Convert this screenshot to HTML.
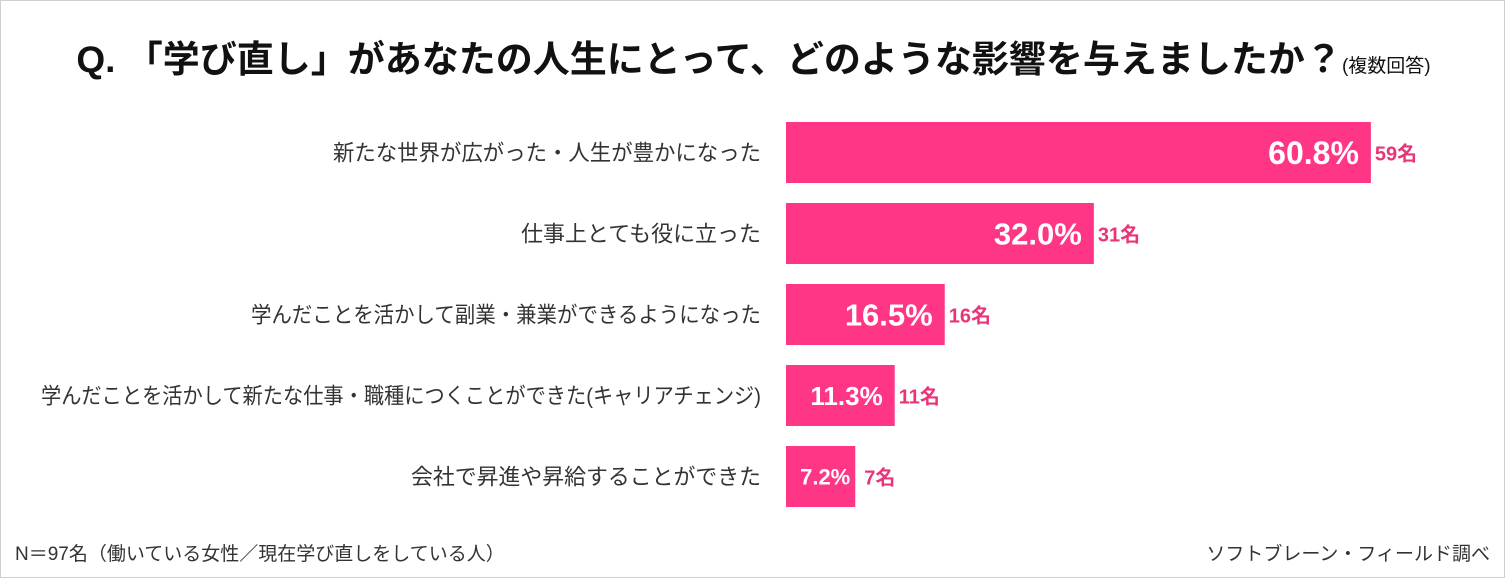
<!DOCTYPE html>
<html><head><meta charset="utf-8"><style>
body{margin:0;background:#fff;}
#wrap{position:relative;width:1503px;height:576px;border:1px solid #cfcfcf;overflow:hidden;font-family:"Liberation Sans","Noto Sans CJK JP",sans-serif;}
.t{position:absolute;white-space:nowrap;}
</style></head><body>
<div id="wrap">
<div class="t" style="left:0;width:1505px;text-align:center;top:28px;font-size:37px;font-weight:bold;color:#111;">Q. 「学び直し」があなたの人生にとって、どのような影響を与えましたか？<span style="font-size:19px;font-weight:normal;">(複数回答)</span></div>
<svg id="chart" width="1505" height="578" style="position:absolute;left:0;top:0"></svg>
<div class="t" style="left:14px;top:538px;font-size:19px;color:#333;">N＝97名（働いている女性／現在学び直しをしている人）</div>
<div class="t" style="right:14px;top:538px;font-size:19px;color:#333;">ソフトブレーン・フィールド調べ</div>
</div>
<script>
const categories=["新たな世界が広がった・人生が豊かになった","仕事上とても役に立った","学んだことを活かして副業・兼業ができるようになった","学んだことを活かして新たな仕事・職種につくことができた(キャリアチェンジ)","会社で昇進や昇給することができた"];
const percents=[60.8,32.0,16.5,11.3,7.2];
const counts=[59,31,16,11,7];
const labelWidths=[428,240,510,720,350];
const svg=document.getElementById('chart');
const NS='http://www.w3.org/2000/svg';
const x0=785,pxPer=9.62,top0=121,pitch=81,bh=61;
function xs(v){return x0+v*pxPer;}
function ys(i){return top0+i*pitch;}
categories.forEach((c,i)=>{
  const y=ys(i),w=xs(percents[i])-x0;
  const r=document.createElementNS(NS,'rect');
  r.setAttribute('x',x0);r.setAttribute('y',y);r.setAttribute('width',w);r.setAttribute('height',bh);r.setAttribute('fill','#ff3585');
  
  
  svg.appendChild(r);
  const l=document.createElementNS(NS,'text');
  l.setAttribute('x',760);l.setAttribute('y',y+bh/2+8);l.setAttribute('text-anchor','end');
  l.setAttribute('textLength',labelWidths[i]);l.setAttribute('lengthAdjust','spacingAndGlyphs');
  l.setAttribute('font-size','22');l.setAttribute('fill','#333');l.textContent=c;
  
  
  svg.appendChild(l);
  const fs=i==0?32:(i<3?31:(i==3?26:22));
  const p=document.createElementNS(NS,'text');
  p.setAttribute('x',xs(percents[i])-(i==4?5:12));p.setAttribute('y',y+bh/2+fs*0.36);p.setAttribute('text-anchor','end');
  p.setAttribute('font-size',fs);p.setAttribute('font-weight','bold');p.setAttribute('fill','#fff');p.textContent=percents[i].toFixed(1)+'%';
  
  
  svg.appendChild(p);
  const n=document.createElementNS(NS,'text');
  n.setAttribute('x',xs(percents[i])+(i==4?9:4));n.setAttribute('y',y+bh/2+8);
  n.setAttribute('font-size','20');n.setAttribute('font-weight','bold');n.setAttribute('fill','#e8357a');n.textContent=counts[i]+'名';
  
  
  svg.appendChild(n);
});
</script>
</body></html>
